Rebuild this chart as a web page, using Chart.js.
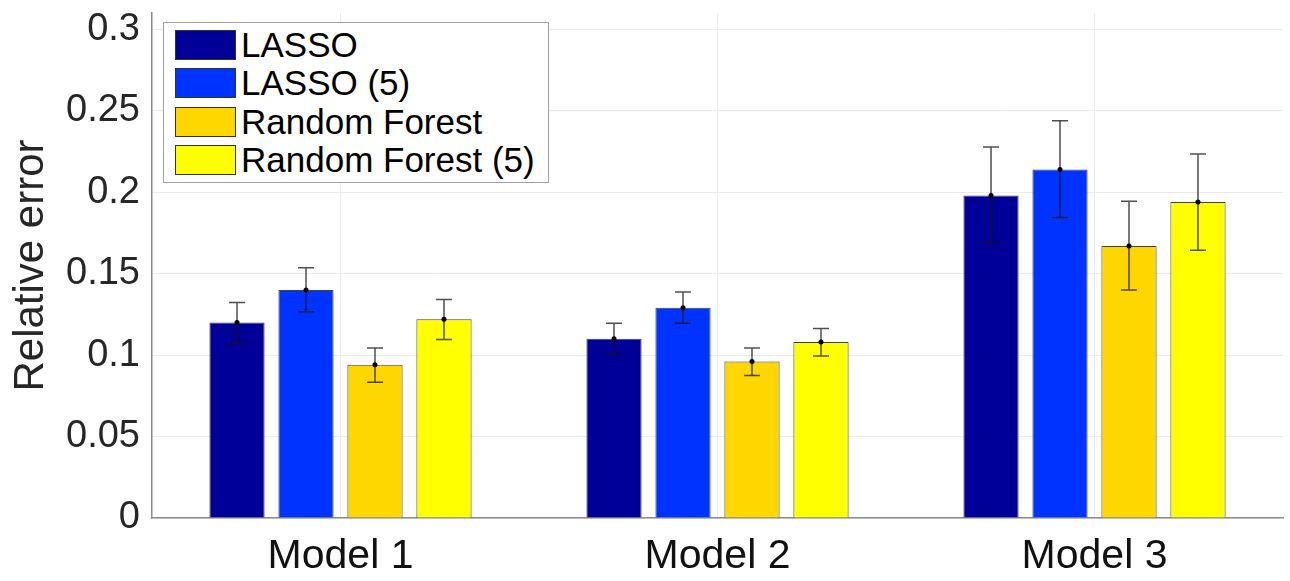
<!DOCTYPE html>
<html>
<head>
<meta charset="utf-8">
<script src="https://cdn.jsdelivr.net/npm/chart.js@4/dist/chart.umd.min.js"></script>
<style>
  html, body { margin: 0; padding: 0; background: #fff; }
  #wrap { position: relative; width: 1290px; height: 581px; }
  #legend {
    position: absolute; left: 163px; top: 22px; width: 384px; height: 159px;
    border: 1.5px solid #a0a0a0; background: #fff;
    font-family: 'Liberation Sans', Arial, sans-serif; font-size: 35px; color: #000;
  }
  .item { position: absolute; left: 11px; height: 30px; line-height: 30px; white-space: nowrap; }
  .swatch { display: inline-block; width: 59px; height: 28px; border: 1px solid #333; vertical-align: top; }
  .label { position: absolute; left: 66px; top: 0; }
</style>
</head>
<body>
<div id="wrap">
  <canvas id="chart" width="1290" height="581"></canvas>
  <div id="legend"></div>
</div>
<script>
// categories
const categories = ['Model 1', 'Model 2', 'Model 3'];

// series: mean relative error and error bar ends
const seriesNames = ['LASSO', 'LASSO (5)', 'Random Forest', 'Random Forest (5)'];
const seriesColors = ['#000099', '#0033ff', '#ffd700', '#ffff00'];

const lassoMean = [0.120, 0.110, 0.198];
const lassoLow = [0.1075, 0.1004, 0.1685];
const lassoHigh = [0.1323, 0.1196, 0.2278];

const lasso5Mean = [0.140, 0.129, 0.214];
const lasso5Low = [0.1266, 0.1196, 0.1845];
const lasso5High = [0.1536, 0.1387, 0.2438];

const rfMean = [0.094, 0.096, 0.167];
const rfLow = [0.0834, 0.0875, 0.140];
const rfHigh = [0.1043, 0.1043, 0.1945];

const rf5Mean = [0.122, 0.108, 0.194];
const rf5Low = [0.1096, 0.0994, 0.1644];
const rf5High = [0.1342, 0.1164, 0.2235];

// y ticks
const yTicks = [0, 0.05, 0.1, 0.15, 0.2, 0.25, 0.3];

const means = [lassoMean, lasso5Mean, rfMean, rf5Mean];
const lows = [lassoLow, lasso5Low, rfLow, rf5Low];
const highs = [lassoHigh, lasso5High, rfHigh, rf5High];

// error bars drawn through the y scale
const errorBars = {
  id: 'errorBars',
  afterDatasetsDraw(chart) {
    const ctx = chart.ctx;
    const y = chart.scales.y;
    ctx.save();
    chart.data.datasets.forEach((ds, i) => {
      const meta = chart.getDatasetMeta(i);
      meta.data.forEach((bar, j) => {
        const x = bar.x;
        const yl = y.getPixelForValue(lows[i][j]);
        const yh = y.getPixelForValue(highs[i][j]);
        const ym = y.getPixelForValue(means[i][j]);
        ctx.strokeStyle = 'rgba(20,20,20,0.75)';
        ctx.lineWidth = 1.5;
        ctx.beginPath();
        ctx.moveTo(x, yl); ctx.lineTo(x, yh);
        ctx.moveTo(x - 8, yl); ctx.lineTo(x + 8, yl);
        ctx.moveTo(x - 8, yh); ctx.lineTo(x + 8, yh);
        ctx.stroke();
        ctx.fillStyle = '#000';
        ctx.beginPath();
        ctx.arc(x, ym, 2.5, 0, Math.PI * 2);
        ctx.fill();
      });
    });
    ctx.restore();
  }
};

const datasets = seriesNames.map((name, i) => ({
  label: name,
  data: means[i],
  backgroundColor: seriesColors[i],
  borderColor: 'rgba(30,30,30,0.85)',
  borderWidth: 1,
  categoryPercentage: 0.732,
  barPercentage: 0.8
}));

const ctx = document.getElementById('chart').getContext('2d');
const myChart = new Chart(ctx, {
  type: 'bar',
  data: { labels: categories, datasets: datasets },
  options: {
    responsive: false,
    animation: false,
    layout: { padding: { top: 13, right: 7, left: 0, bottom: 0 } },
    plugins: { legend: { display: false }, tooltip: { enabled: false } },
    scales: {
      x: {
        offset: true,
        grid: { offset: false, color: '#ebebeb', drawTicks: false },
        border: { color: '#8c8c8c', width: 1.5 },
        ticks: {
          padding: 14,
          color: '#111',
          font: { family: 'Liberation Sans', size: 41 }
        },
        afterFit(scale) {
          scale.height = 63;
          scale.paddingLeft = 0; scale.paddingRight = 0;
        }
      },
      y: {
        min: 0,
        max: 0.31,
        afterBuildTicks(scale) { scale.ticks = yTicks.map(v => ({ value: v })); },
        grid: { color: '#ebebeb', drawTicks: false },
        border: { color: '#8c8c8c', width: 1.5 },
        ticks: {
          padding: 12,
          color: '#262626',
          font: { family: 'Liberation Sans', size: 38 },
          callback: v => String(+v.toFixed(2))
        },
        title: {
          display: true,
          text: 'Relative error',
          color: '#262626',
          padding: { top: 6, bottom: 0 },
          font: { family: 'Liberation Sans', size: 42 }
        },
        afterFit(scale) {
          scale.width = 152;
          scale.paddingTop = 0; scale.paddingBottom = 0;
        }
      }
    }
  },
  plugins: [errorBars]
});

// legend built from the series
const legend = document.getElementById('legend');
seriesNames.forEach((name, i) => {
  const item = document.createElement('div');
  item.className = 'item';
  item.style.top = (7 + i * 38.3) + 'px';
  const sw = document.createElement('span');
  sw.className = 'swatch';
  sw.style.background = seriesColors[i];
  const lab = document.createElement('span');
  lab.className = 'label';
  lab.textContent = name;
  item.appendChild(sw);
  item.appendChild(lab);
  legend.appendChild(item);
});
</script>
</body>
</html>
